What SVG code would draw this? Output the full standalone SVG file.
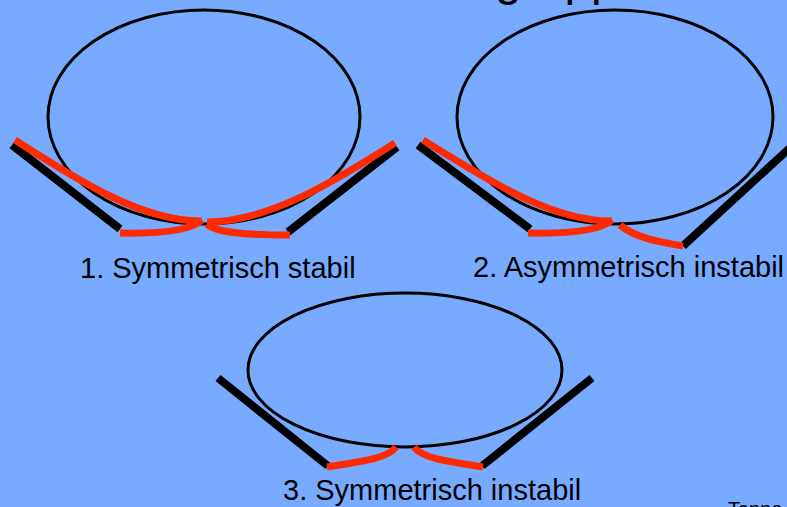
<svg xmlns="http://www.w3.org/2000/svg" width="787" height="507" viewBox="0 0 787 507">
  <style>
    .ball { fill: none; stroke: #000; stroke-width: 3; }
    .plate { stroke: #000; stroke-width: 8; stroke-linecap: butt; fill: none; }
    .skin { stroke: #ff2a00; stroke-width: 7; stroke-linecap: butt; fill: none; }
    .label { font-family: "Liberation Sans", Arial, sans-serif; font-size: 29px; fill: #000; }
    .title { font-family: "Liberation Sans", Arial, sans-serif; font-size: 48px; fill: #000; }
    .credit { font-family: "Liberation Sans", Arial, sans-serif; font-size: 20px; fill: #000; }
  </style>
  <rect x="0" y="0" width="787" height="507" fill="#78aaff"/>

  <!-- title, cut off at the top edge -->
  <text class="title" x="495" y="-5">gruppen</text>

  <!-- 1. symmetric, stable -->
  <g id="case-1">
    <ellipse class="ball" cx="204" cy="117" rx="156" ry="107"/>
    <line class="plate" x1="12" y1="145" x2="120" y2="229"/>
    <line class="plate" x1="397" y1="147" x2="288" y2="232"/>
    <path class="skin" d="M15,140 C70,175 140,222 202,221"/>
    <path class="skin" d="M120,233 C160,234 190,231 202,220"/>
    <path class="skin" d="M395,143 C340,178 270,222 207,222"/>
    <path class="skin" d="M207,224 C215,232 240,235 290,235"/>
    <text class="label" x="80" y="278">1. Symmetrisch stabil</text>
  </g>

  <!-- 2. asymmetric, unstable -->
  <g id="case-2">
    <ellipse class="ball" cx="615" cy="117" rx="158" ry="107"/>
    <line class="plate" x1="418" y1="145" x2="530" y2="229"/>
    <line class="plate" x1="683" y1="246" x2="792" y2="146"/>
    <path class="skin" d="M423,140 C480,175 550,222 612,221"/>
    <path class="skin" d="M528,233 C570,234 600,231 612,220"/>
    <path class="skin" d="M620,225 C635,238 660,242 683,246"/>
    <text class="label" x="473" y="277">2. Asymmetrisch instabil</text>
  </g>

  <!-- 3. symmetric, unstable -->
  <g id="case-3">
    <ellipse class="ball" cx="405" cy="370" rx="157" ry="77"/>
    <line class="plate" x1="218" y1="378" x2="328" y2="466"/>
    <line class="plate" x1="592" y1="378" x2="482" y2="466"/>
    <path class="skin" d="M327,467 C365,461 388,458 396,447"/>
    <path class="skin" d="M414,447 C422,458 445,461 483,467"/>
    <text class="label" x="283" y="500">3. Symmetrisch instabil</text>
  </g>

  <!-- credit line, cut off at the bottom edge -->
  <text class="credit" x="728" y="516">Tappe</text>
</svg>
